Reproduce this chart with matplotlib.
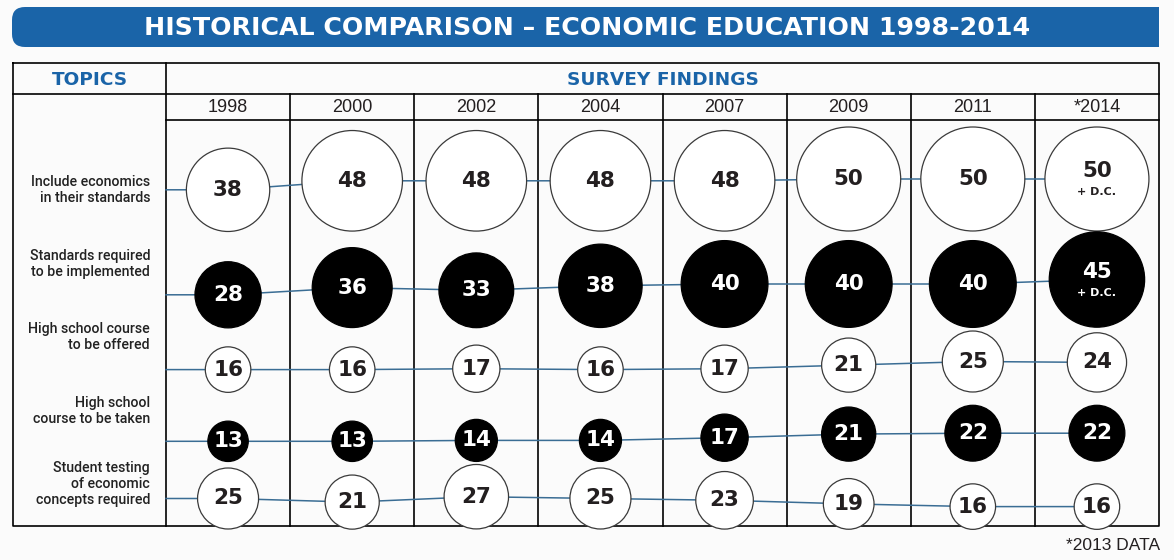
import numpy as np
import matplotlib.pyplot as plt
from matplotlib.patches import Circle, FancyBboxPatch, Rectangle

# survey data
years = ['1998', '2000', '2002', '2004', '2007', '2009', '2011', '*2014']
topics = ['Include economics\nin their standards',
          'Standards required\nto be implemented',
          'High school course\nto be offered',
          'High school\ncourse to be taken',
          'Student testing\nof economic\nconcepts required']
include_econ = [38, 48, 48, 48, 48, 50, 50, 50]
standards_required = [28, 36, 33, 38, 40, 40, 40, 45]
course_offered = [16, 16, 17, 16, 17, 21, 25, 24]
course_taken = [13, 13, 14, 14, 17, 21, 22, 22]
student_testing = [25, 21, 27, 25, 23, 19, 16, 16]
rows = [include_econ, standards_required, course_offered, course_taken, student_testing]
filled = [False, True, False, True, False]
dc_rows = [0, 1]  # last year reads "+ D.C."

# layout (pixels)
W, H = 1174, 560
left, topics_right, right = 13, 166, 1159
top, head_mid, head_bot, bottom = 63, 94, 120, 526
col_edges = np.linspace(topics_right, right, len(years) + 1)
col_centers = (col_edges[:-1] + col_edges[1:]) / 2
row_base = [224, 320, 384, 453, 521]
label_y = [190, 264, 337, 411, 484]
y_per_unit = 0.9

BLUE = '#1a64a8'
LINE = '#3a6d94'
INK = '#231f20'


def radius(v):
    return 9 + 0.86 * v


fig = plt.figure(figsize=(W / 100, H / 100), dpi=100, facecolor='#fbfbfb')
ax = fig.add_axes([0, 0, 1, 1])
ax.set_xlim(0, W)
ax.set_ylim(H, 0)
ax.axis('off')

# title bar: rounded on the left, square on the right
ax.add_patch(FancyBboxPatch((12, 7), 1147, 40, boxstyle='round,pad=0,rounding_size=13',
                            fc=BLUE, ec='none'))
ax.add_patch(Rectangle((600, 7), 559, 40, fc=BLUE, ec='none'))
ax.text(587, 28, 'HISTORICAL COMPARISON \u2013 ECONOMIC EDUCATION 1998-2014',
        color='white', fontsize=18.2, fontweight='bold', ha='center', va='center')

# table grid
lk = dict(color='black', lw=1.2, zorder=1)
ax.plot([left, right, right, left, left], [top, top, bottom, bottom, top], **lk)
ax.plot([topics_right, topics_right], [top, bottom], **lk)
ax.plot([left, right], [head_mid, head_mid], **lk)
ax.plot([topics_right, right], [head_bot, head_bot], **lk)
for xe in col_edges[1:-1]:
    ax.plot([xe, xe], [head_mid, bottom], **lk)

ax.text((left + topics_right) / 2, 80, 'TOPICS', color=BLUE, fontsize=13.3,
        fontweight='bold', ha='center', va='center')
ax.text((topics_right + right) / 2, 80, 'SURVEY FINDINGS', color=BLUE, fontsize=13.3,
        fontweight='bold', ha='center', va='center')
for xc, yr in zip(col_centers, years):
    ax.text(xc, 107, yr, color=INK, fontsize=13, family='Liberation Sans',
            ha='center', va='center')

for ly, t in zip(label_y, topics):
    ax.text(150, ly, t, color='#222222', fontsize=10.2, family='Roboto', fontweight='medium',
            ha='right', va='center', linespacing=1.15)

# connecting lines and bubbles
for i, vals in enumerate(rows):
    ys = [row_base[i] - y_per_unit * v for v in vals]
    ax.plot([topics_right] + list(col_centers), [ys[0]] + ys, color=LINE, lw=1.1, zorder=2)
    for j, (xc, yc, v) in enumerate(zip(col_centers, ys, vals)):
        fc = 'black' if filled[i] else 'white'
        ax.add_patch(Circle((xc, yc), radius(v), fc=fc, ec='black' if filled[i] else '#3a3a3a',
                            lw=0.9, zorder=3))
        tc = 'white' if filled[i] else INK
        if i in dc_rows and j == len(years) - 1:
            ax.text(xc, yc - 8, str(v), color=tc, fontsize=15.5, fontweight='bold',
                    ha='center', va='center', zorder=4)
            ax.text(xc, yc + 13, '+ D.C.', color=tc, fontsize=8, fontweight='bold',
                    ha='center', va='center', zorder=4)
        else:
            ax.text(xc, yc, str(v), color=tc, fontsize=15.5, fontweight='bold',
                    ha='center', va='center', zorder=4)

ax.text(1160, 546, '*2013 DATA', color=INK, fontsize=12.5, family='Liberation Sans',
        ha='right', va='center')

fig.savefig('out.png', dpi=100, facecolor=fig.get_facecolor())
